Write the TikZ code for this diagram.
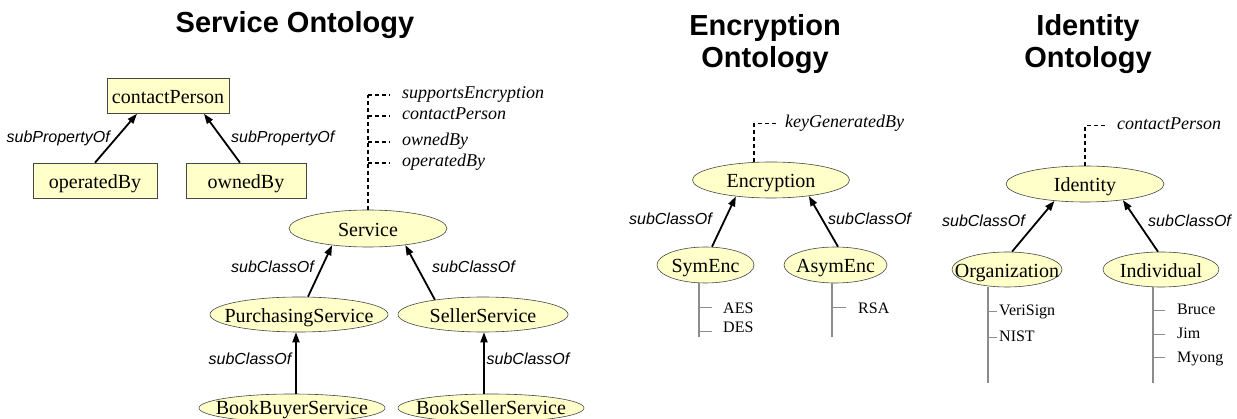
\documentclass[tikz,border=0pt]{standalone}
\usepackage{fontspec}
\setmainfont{Liberation Serif}
\setsansfont{Liberation Sans}
\usetikzlibrary{arrows.meta,shapes.geometric}

\definecolor{conceptfill}{RGB}{255,255,202}
\definecolor{conceptedge}{RGB}{70,70,70}
\definecolor{listgray}{RGB}{140,140,140}

\tikzset{
  % ontology classes: flat ellipses sized by minimum width/height
  concept/.style={ellipse, draw=conceptedge, line width=0.6pt, fill=conceptfill,
    inner xsep=-90pt, inner ysep=-20pt, text height=15.5pt, text depth=0pt,
    minimum height=36pt, font=\fontsize{20}{24}\selectfont},
  % properties: rectangles
  propbox/.style={rectangle, draw=conceptedge, line width=0.6pt, fill=conceptfill,
    inner sep=0pt, text height=15.5pt, text depth=0pt,
    minimum height=35pt, font=\fontsize{20}{24}\selectfont},
  isa/.style={line width=1.8pt, -{Triangle[length=10pt,width=7pt]}},
  edgelabel/.style={font=\fontsize{16}{19}\selectfont\sffamily\itshape, inner sep=0pt},
  proplabel/.style={font=\fontsize{18}{21}\selectfont\itshape, inner sep=0pt,
    text height=12pt, text depth=4pt, anchor=west},
  propline/.style={line width=1.6pt, dash pattern=on 4pt off 3pt},
  member/.style={font=\fontsize{16}{19}\selectfont, inner sep=0pt, anchor=base west},
  memberline/.style={draw=listgray, line width=1.2pt},
  heading/.style={font=\fontsize{29}{32}\selectfont\sffamily\bfseries, inner sep=0pt},
}

\begin{document}
\begin{tikzpicture}[x=1pt,y=-1pt]
\useasboundingbox (0,0) rectangle (1237,419);

% ---------------- headings ----------------
\node[heading, anchor=base] (hService) at (295,33) {Service Ontology};
\node[heading, anchor=north, align=center] (hEnc) at (765,14) {Encryption\\Ontology};
\node[heading, anchor=north, align=center] (hId) at (1088,14) {Identity\\Ontology};

% ---------------- service ontology ----------------
\node[propbox, minimum width=122pt] (cp) at (168,96) {contactPerson};
\node[propbox, minimum width=124pt] (opBy) at (95,180.5) {operatedBy};
\node[propbox, minimum width=120pt] (ownBy) at (246,180.5) {ownedBy};

\draw[isa] (opBy.north) -- ([xshift=-31pt]cp.south);
\draw[isa] ([xshift=-6pt]ownBy.north) -- ([xshift=36pt]cp.south);
\node[edgelabel, anchor=base east] (lSP1) at (110,142.5) {subPropertyOf};
\node[edgelabel, anchor=base west] (lSP2) at (231,142.5) {subPropertyOf};

\node[concept, minimum width=158pt, minimum height=37pt] (svc) at (368,228.5) {Service};
\node[concept, minimum width=178pt, minimum height=35pt] (pur) at (299,314.5) {PurchasingService};
\node[concept, minimum width=170pt, minimum height=35pt] (sel) at (483,314.5) {SellerService};
\node[concept, minimum width=186pt, minimum height=28pt, text height=12pt] (bb) at (292,408) {BookBuyerService};
\node[concept, minimum width=186pt, minimum height=28pt, text height=12pt] (bs) at (491,408) {BookSellerService};

\draw[isa] ([xshift=9pt]pur.north) -- (svc.205);
\draw[isa] (sel.163) -- (svc.336);
\draw[isa] ([xshift=4pt]bb.north) -- ([xshift=-3pt]pur.south);
\draw[isa] ([xshift=-7pt]bs.north) -- ([xshift=1pt]sel.south);

\node[edgelabel, anchor=base east] (lS1) at (314,273) {subClassOf};
\node[edgelabel, anchor=base west] (lS2) at (432,273) {subClassOf};
\node[edgelabel, anchor=base east] (lS3) at (291.5,365) {subClassOf};
\node[edgelabel, anchor=base west] (lS4) at (486.5,365) {subClassOf};

% properties attached to Service
\node[proplabel] (pSE) at (402,95) {supportsEncryption};
\node[proplabel] (pCP) at (402,116) {contactPerson};
\node[proplabel] (pOwn) at (402,142) {ownedBy};
\node[proplabel] (pOp) at (402,163) {operatedBy};
\draw[propline] (svc.north) -- (svc.north |- pSE.west);
\foreach \p in {pSE,pCP,pOwn,pOp}
  \draw[propline] (svc.north |- \p.west) -- ([xshift=-12pt]\p.west);

% ---------------- encryption ontology ----------------
\node[concept, minimum width=157pt] (enc) at (771,180) {Encryption};
\node[concept, minimum width=97pt] (sym) at (705.5,265) {SymEnc};
\node[concept, minimum width=103pt] (asym) at (835.5,265) {AsymEnc};

\node[proplabel] (pKG) at (785,123.5) {keyGeneratedBy};
\draw[propline] ([xshift=-17pt]enc.north) |- ([xshift=-8pt]pKG.west);

\draw[isa] ([xshift=6.5pt]sym.north) -- (enc.205);
\draw[isa] ([xshift=2.5pt]asym.north) -- (enc.337);
\node[edgelabel, anchor=base east] (lE1) at (712,224.5) {subClassOf};
\node[edgelabel, anchor=base west] (lE2) at (828,224.5) {subClassOf};

\coordinate (symList) at ([xshift=-6.5pt]sym.south);
\draw[memberline] (symList) -- ++(0,54);
\draw[memberline] (symList) ++(0,24) -- ++(13,0);
\draw[memberline] (symList) ++(0,48) -- ++(13,0);
\node[member] (mAES) at (723,314) {AES};
\node[member] (mDES) at (723,333) {DES};

\coordinate (asymList) at ([xshift=-3.5pt]asym.south);
\draw[memberline] (asymList) -- ++(0,54);
\draw[memberline] (asymList) ++(0,24) -- ++(14,0);
\node[member] (mRSA) at (858,314) {RSA};

% ---------------- identity ontology ----------------
\node[concept, minimum width=158pt] (id) at (1085,184) {Identity};
\node[concept, minimum width=110pt, minimum height=35pt] (org) at (1007,269.5) {Organization};
\node[concept, minimum width=116pt, minimum height=35pt] (ind) at (1161,269.5) {Individual};

\node[proplabel] (pCP2) at (1117,125.5) {contactPerson};
\draw[propline] (id.north) |- ([xshift=-10pt]pCP2.west);

\draw[isa] ([xshift=5pt]org.north) -- (id.209);
\draw[isa] ([xshift=-3pt]ind.north) -- (id.337);
\node[edgelabel, anchor=base east] (lI1) at (1025,227) {subClassOf};
\node[edgelabel, anchor=base west] (lI2) at (1148,227) {subClassOf};

\coordinate (orgList) at ([xshift=-19pt]org.south);
\draw[memberline] (orgList) -- ++(0,96);
\draw[memberline] (orgList) ++(0,24) -- ++(9,0);
\draw[memberline] (orgList) ++(0,50) -- ++(9,0);
\node[member] (mVS) at (999,316) {VeriSign};
\node[member] (mNIST) at (999,341.5) {NIST};

\coordinate (indList) at ([xshift=-8pt]ind.south);
\draw[memberline] (indList) -- ++(0,96);
\draw[memberline] (indList) ++(0,23) -- ++(12,0);
\draw[memberline] (indList) ++(0,47) -- ++(12,0);
\draw[memberline] (indList) ++(0,70) -- ++(12,0);
\node[member] (mBruce) at (1177,315) {Bruce};
\node[member] (mJim) at (1177,339) {Jim};
\node[member] (mMyong) at (1177,362.5) {Myong};
\end{tikzpicture}
\end{document}
